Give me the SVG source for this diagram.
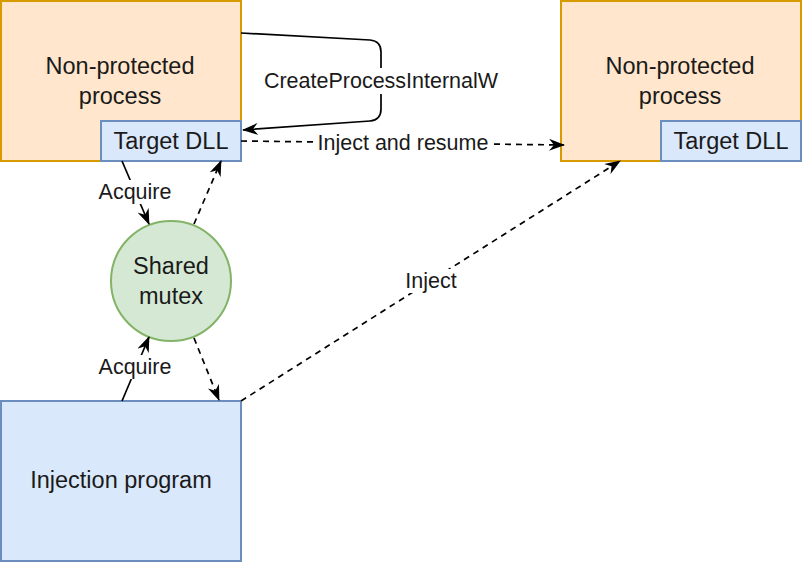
<svg xmlns="http://www.w3.org/2000/svg" width="802" height="562" viewBox="0 0 802 562">
<style>
text{font-family:"Liberation Sans",Arial,sans-serif;fill:#1a1a1a;text-anchor:middle;dominant-baseline:central}
.n{font-size:23.5px}
.l{font-size:21.5px}
.proc{fill:#ffe6cc;stroke:#d79b00;stroke-width:2}
.blue{fill:#dae8fc;stroke:#6c8ebf;stroke-width:2}
.green{fill:#d5e8d4;stroke:#82b366;stroke-width:2}
.c{fill:none;stroke:#000;stroke-width:1.7}
.d{stroke-dasharray:6 5}
.bg{fill:#fff}
</style>
<defs>
<marker id="a" viewBox="0 0 16 12" markerWidth="16" markerHeight="12" refX="15" refY="6" orient="auto" markerUnits="userSpaceOnUse">
<path d="M0,0 L16,6 L0,12 L5,6 Z" fill="#000"/>
</marker>
</defs>
<g id="np1">
<rect class="proc" x="1" y="1" width="240" height="160"/>
<text class="n" x="120" y="66">Non-protected</text>
<text class="n" x="120" y="96">process</text>
</g>
<g id="dll1">
<rect class="blue" x="101" y="121" width="140" height="40"/>
<text class="n" x="171" y="141">Target DLL</text>
</g>
<g id="np2">
<rect class="proc" x="561" y="1" width="240" height="160"/>
<text class="n" x="680" y="66">Non-protected</text>
<text class="n" x="680" y="96">process</text>
</g>
<g id="dll2">
<rect class="blue" x="661" y="121" width="140" height="40"/>
<text class="n" x="731" y="141">Target DLL</text>
</g>
<g id="mutex">
<circle class="green" cx="171" cy="281" r="60"/>
<text class="n" x="171" y="266">Shared</text>
<text class="n" x="171" y="296">mutex</text>
</g>
<g id="inj">
<rect class="blue" x="1" y="401" width="240" height="160"/>
<text class="n" x="121" y="480">Injection program</text>
</g>
<g id="connectors">
<path class="c" d="M241,33 L370,40 Q381,41 381,52 L381,109 Q381,120 370,121 L243,130" marker-end="url(#a)"/>
<rect class="bg" x="259" y="68" width="244" height="26"/>
<text class="l" x="381" y="81">CreateProcessInternalW</text>
<path class="c d" d="M241,141 L564,145" marker-end="url(#a)"/>
<rect class="bg" x="316" y="131" width="176" height="24"/>
<text class="l" x="403" y="143">Inject and resume</text>
<path class="c" d="M122,161 L149,224" marker-end="url(#a)"/>
<rect class="bg" x="96" y="180" width="78" height="24"/>
<text class="l" x="135" y="192">Acquire</text>
<path class="c d" d="M194,224 L221,161" marker-end="url(#a)"/>
<path class="c d" d="M194,338 L219,400" marker-end="url(#a)"/>
<path class="c" d="M122,401 L149,337" marker-end="url(#a)"/>
<rect class="bg" x="96" y="355" width="78" height="24"/>
<text class="l" x="135" y="367">Acquire</text>
<path class="c d" d="M241,401 L620,161" marker-end="url(#a)"/>
<rect class="bg" x="402" y="269" width="58" height="24"/>
<text class="l" x="431" y="281">Inject</text>
</g>
</svg>
